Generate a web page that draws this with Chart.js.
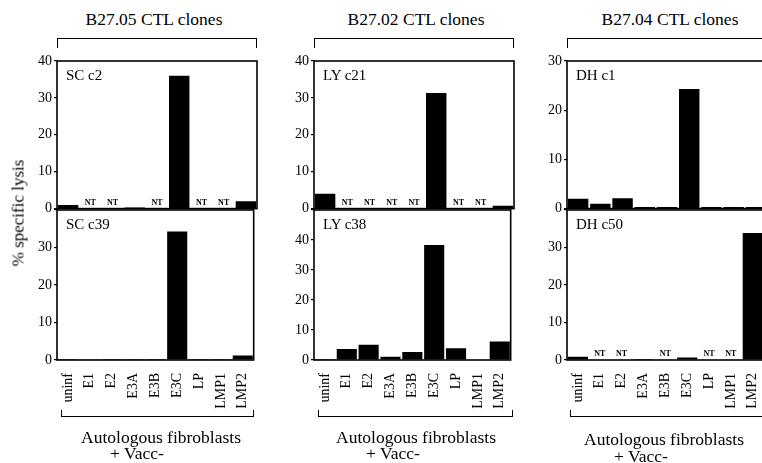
<!DOCTYPE html>
<html><head><meta charset="utf-8">
<script src="https://cdn.jsdelivr.net/npm/chart.js@4.4.1/dist/chart.umd.min.js"></script>
<style>
html,body{margin:0;padding:0;width:762px;height:463px;overflow:hidden;background:#fff;}
#wrap{position:relative;width:762px;height:463px;overflow:hidden;font-family:"Liberation Serif","Times New Roman",serif;color:#000;}
canvas{position:absolute;}
.t{position:absolute;white-space:nowrap;line-height:1;}
.c{transform:translate(-50%,-50%);}
.l{transform:translate(0,-50%);}
.br{position:absolute;border:0 solid #000;box-sizing:border-box;}
</style></head><body><div id="wrap"></div>
<script>
// ---- data (null = NT, not tested) ----
const categories = ['uninf','E1','E2','E3A','E3B','E3C','LP','LMP1','LMP2'];
const groupTitles = ['B27.05 CTL clones','B27.02 CTL clones','B27.04 CTL clones'];
const cloneTop = ['SC c2','LY c21','DH c1'];
const cloneBottom = ['SC c39','LY c38','DH c50'];
const scC2  = [1.0, null, null, 0.3, null, 36.0, null, null, 2.0];
const scC39 = [0.3, 0.2, 0.3, 0.3, 0.3, 34.3, 0.3, 0.3, 1.2];
const lyC21 = [4.0, null, null, null, null, 31.3, null, null, 0.8];
const lyC38 = [0.3, 3.7, 5.1, 1.1, 2.7, 38.3, 3.9, 0.2, 6.2];
const dhC1  = [2.0, 1.0, 2.1, 0.3, 0.3, 24.3, 0.3, 0.3, 0.3];
const dhC50 = [0.9, null, null, 0.3, null, 0.7, null, null, 33.9];
const topMax = [40, 40, 30];
const bottomMax = [40, 50, 40];
const yTitle = '% specific lysis';
const xTitle1 = 'Autologous fibroblasts';
const xTitle2 = '+ Vacc-';

// ---- layout ----
const wrap = document.getElementById('wrap');
const axisX = [57, 314, 567];
const plotW = 200;
const FONT = '"Liberation Serif","Times New Roman",serif';

const framePlugin = {
  id: 'frame',
  afterDatasetsDraw(chart) {
    const {ctx, chartArea: a} = chart;
    ctx.save();
    ctx.strokeStyle = '#000';
    ctx.lineWidth = 1.6;
    ctx.strokeRect(a.left, a.top, a.right - a.left, a.bottom - a.top);
    const ds = chart.data.datasets[0].data;
    const xs = chart.scales.x, ys = chart.scales.y;
    ctx.fillStyle = '#000';
    ctx.font = 'bold 8px ' + FONT;
    ctx.textAlign = 'center';
    ctx.textBaseline = 'bottom';
    ds.forEach((v, i) => {
      if (v === null) ctx.fillText('NT', xs.getPixelForValue(i), ys.getPixelForValue(0) - 2);
    });
    ctx.restore();
  }
};

function makeChart(values, max, ax, plotTop, plotH, showX, hideMax) {
  const padT = 12, padB = showX ? 4 : 10, yW = 45, xH = 58, padR = 8;
  const c = document.createElement('canvas');
  c.width = yW + plotW + padR;
  c.height = padT + plotH + (showX ? xH : 0) + padB;
  c.style.left = (ax - yW) + 'px';
  c.style.top = (plotTop - padT) + 'px';
  wrap.appendChild(c);
  const xOpts = {
    display: showX,
    grid: { display: false }, border: { display: false },
    ticks: { font: { family: FONT, size: 14 }, color: '#000', maxRotation: 90, minRotation: 90, padding: 5, autoSkip: false }
  };
  if (showX) xOpts.afterFit = s => { s.height = xH; };
  const ch = new Chart(c, {
    type: 'bar',
    data: { labels: categories, datasets: [{ data: values, backgroundColor: '#000', borderWidth: 0, barPercentage: 0.92, categoryPercentage: 1 }] },
    options: {
      responsive: false, animation: false, devicePixelRatio: 1,
      layout: { padding: { left: 0, top: padT, right: padR, bottom: padB } },
      plugins: { legend: { display: false }, tooltip: { enabled: false } },
      scales: {
        x: xOpts,
        y: {
          min: 0, max: max,
          grid: { display: true, drawOnChartArea: false, drawTicks: true, tickLength: 3, color: '#000', lineWidth: 1.2 },
          border: { display: false },
          ticks: { stepSize: 10, font: { family: FONT, size: 14 }, color: '#000', padding: 2,
                   callback: v => (hideMax && v === max) ? '' : v },
          afterFit: s => { s.width = yW; }
        }
      }
    },
    plugins: [framePlugin]
  });
  const a = ch.chartArea;
  c.style.left = (ax - a.left) + 'px';
  c.style.top = (plotTop - a.top) + 'px';
  return ch;
}

const topData = [scC2, lyC21, dhC1];
const botData = [scC39, lyC38, dhC50];
for (let k = 0; k < 3; k++) {
  makeChart(topData[k], topMax[k], axisX[k], 61, 148, false, false);
  makeChart(botData[k], bottomMax[k], axisX[k], 210, 150, true, true);
}

function text(str, x, y, size, cls, extra) {
  const d = document.createElement('div');
  d.className = 't ' + cls;
  d.textContent = str;
  d.style.left = x + 'px'; d.style.top = y + 'px';
  d.style.fontSize = size + 'px';
  if (extra) Object.assign(d.style, extra);
  wrap.appendChild(d);
}
function box(left, top, w, h, sides) {
  const d = document.createElement('div');
  d.className = 'br';
  Object.assign(d.style, { left: left + 'px', top: top + 'px', width: w + 'px', height: h + 'px' });
  sides.forEach(s => d.style['border' + s + 'Width'] = '1.5px');
  wrap.appendChild(d);
}

const titleX = [154, 416, 670];
const autoX = [161, 416, 664];
const autoY = [438, 438, 440];
const vaccX = [110, 366, 614];
const vaccY = [454, 454, 457];
const bracketL = [61, 318, 570];
const bracketW = [193, 195, 200];
for (let k = 0; k < 3; k++) {
  text(groupTitles[k], titleX[k], 20, 17.5, 'c');
  box(axisX[k], 38, plotW, 10, ['Top', 'Left', 'Right']);
  box(bracketL[k], 410, bracketW[k], 7, ['Bottom', 'Left', 'Right']);
  text(cloneTop[k], axisX[k] + 9, 75, 15, 'l');
  text(cloneBottom[k], axisX[k] + 9, 224, 15, 'l');
  text(xTitle1, autoX[k], autoY[k], 17.5, 'c');
  text(xTitle2, vaccX[k], vaccY[k], 17.5, 'l');
}
text(yTitle, 18, 213, 17, 'c', { transform: 'translate(-50%,-50%) rotate(-90deg)' });
</script>
</body></html>
